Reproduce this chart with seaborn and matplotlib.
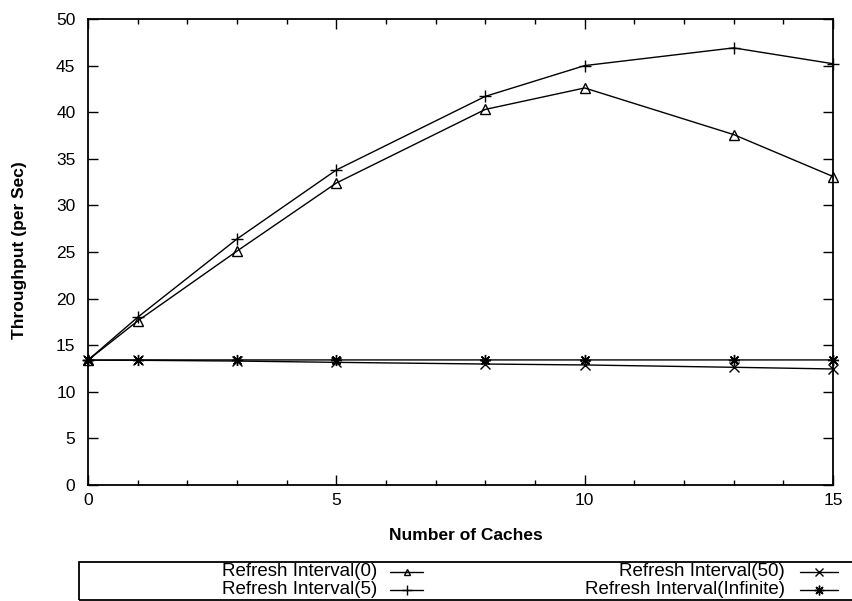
import matplotlib
matplotlib.use("Agg")
import matplotlib.pyplot as plt
from matplotlib.lines import Line2D
from matplotlib.patches import Rectangle
from matplotlib.ticker import MultipleLocator
import seaborn as sns

# Throughput measured for each number of caches
caches = [0, 1, 3, 5, 8, 10, 13, 15]
refresh_0 = [13.4, 17.6, 25.1, 32.4, 40.3, 42.6, 37.6, 33.1]
refresh_5 = [13.4, 18.0, 26.4, 33.8, 41.7, 45.0, 46.9, 45.2]
refresh_50 = [13.4, 13.38, 13.3, 13.16, 12.98, 12.88, 12.63, 12.45]
refresh_inf = [13.4, 13.42, 13.42, 13.42, 13.42, 13.42, 13.42, 13.42]

labels = ["Refresh Interval(0)", "Refresh Interval(5)",
          "Refresh Interval(50)", "Refresh Interval(Infinite)"]
series = [refresh_0, refresh_5, refresh_50, refresh_inf]

x_ticks = [0, 5, 10, 15]
y_ticks = [0, 5, 10, 15, 20, 25, 30, 35, 40, 45, 50]

# marker, plot size, legend size
styles = [("^", 7, 5), ("+", 9, 7), ("x", 6.5, 5.5), ((8, 2, 0), 8, 7)]

sns.set_theme(style="ticks")
plt.rcParams["font.family"] = ["Liberation Sans", "DejaVu Sans"]

W, H = 852, 601
fig = plt.figure(figsize=(W / 100, H / 100), dpi=100)
ax = fig.add_axes([88 / W, 1 - 485 / H, (833 - 88) / W, (485 - 19) / H])

for vals, (m, ms, _) in zip(series, styles):
    sns.lineplot(x=caches, y=vals, ax=ax, color="black", linewidth=1.0,
                 marker=m, markersize=ms, markerfacecolor="none",
                 markeredgecolor="black", markeredgewidth=1.0,
                 clip_on=False, legend=False, zorder=3)

ax.set_xlim(0, 15)
ax.set_ylim(0, 50)
ax.set_xticks(x_ticks)
ax.set_yticks(y_ticks)
ax.xaxis.set_minor_locator(MultipleLocator(1))
ax.tick_params(which="both", direction="in", top=True, right=True,
               color="black", labelcolor="black", labelsize=12.5)
ax.tick_params(which="major", length=7, width=1.0)
ax.tick_params(which="minor", length=3.5, width=1.0)
ax.tick_params(axis="x", pad=6)
ax.tick_params(axis="y", pad=9)
for s in ax.spines.values():
    s.set_linewidth(1.3)
    s.set_color("black")

ax.set_xlabel("Number of Caches", fontweight="bold", fontsize=12.5,
              va="center", color="black")
ax.xaxis.set_label_coords((466 - 88) / 745, -(535 - 485) / 466)
ax.set_ylabel("Throughput (per Sec)", fontweight="bold", fontsize=12.5,
              va="center", ha="center", color="black")
ax.yaxis.set_label_coords((20 - 88) / 745, (485 - 250) / 466)


def fx(px):
    return px / W


def fy(py):
    return 1 - py / H


# Legend box along the bottom edge, labels right-aligned before each key
fig.add_artist(Rectangle((fx(79), fy(600)), fx(870 - 79), (600 - 562) / H,
                         transform=fig.transFigure, fill=False,
                         linewidth=1.3, edgecolor="black", clip_on=False))

rows = [571.5, 589.5]
cols = [(377, 390, 423), (785, 800, 838)]
for i, (lab, (m, _, lms)) in enumerate(zip(labels, styles)):
    tx, h0, h1 = cols[i // 2]
    yy = rows[i % 2]
    fig.text(fx(tx), fy(yy), lab, ha="right", va="center",
             fontsize=13.5, color="black")
    fig.add_artist(Line2D([fx(h0), fx((h0 + h1) / 2), fx(h1)],
                          [fy(yy)] * 3, transform=fig.transFigure,
                          color="black", linewidth=1.0, marker=m,
                          markevery=[1], markersize=lms,
                          markerfacecolor="none", markeredgecolor="black",
                          markeredgewidth=1.0))

fig.savefig("out.png", dpi=100)
